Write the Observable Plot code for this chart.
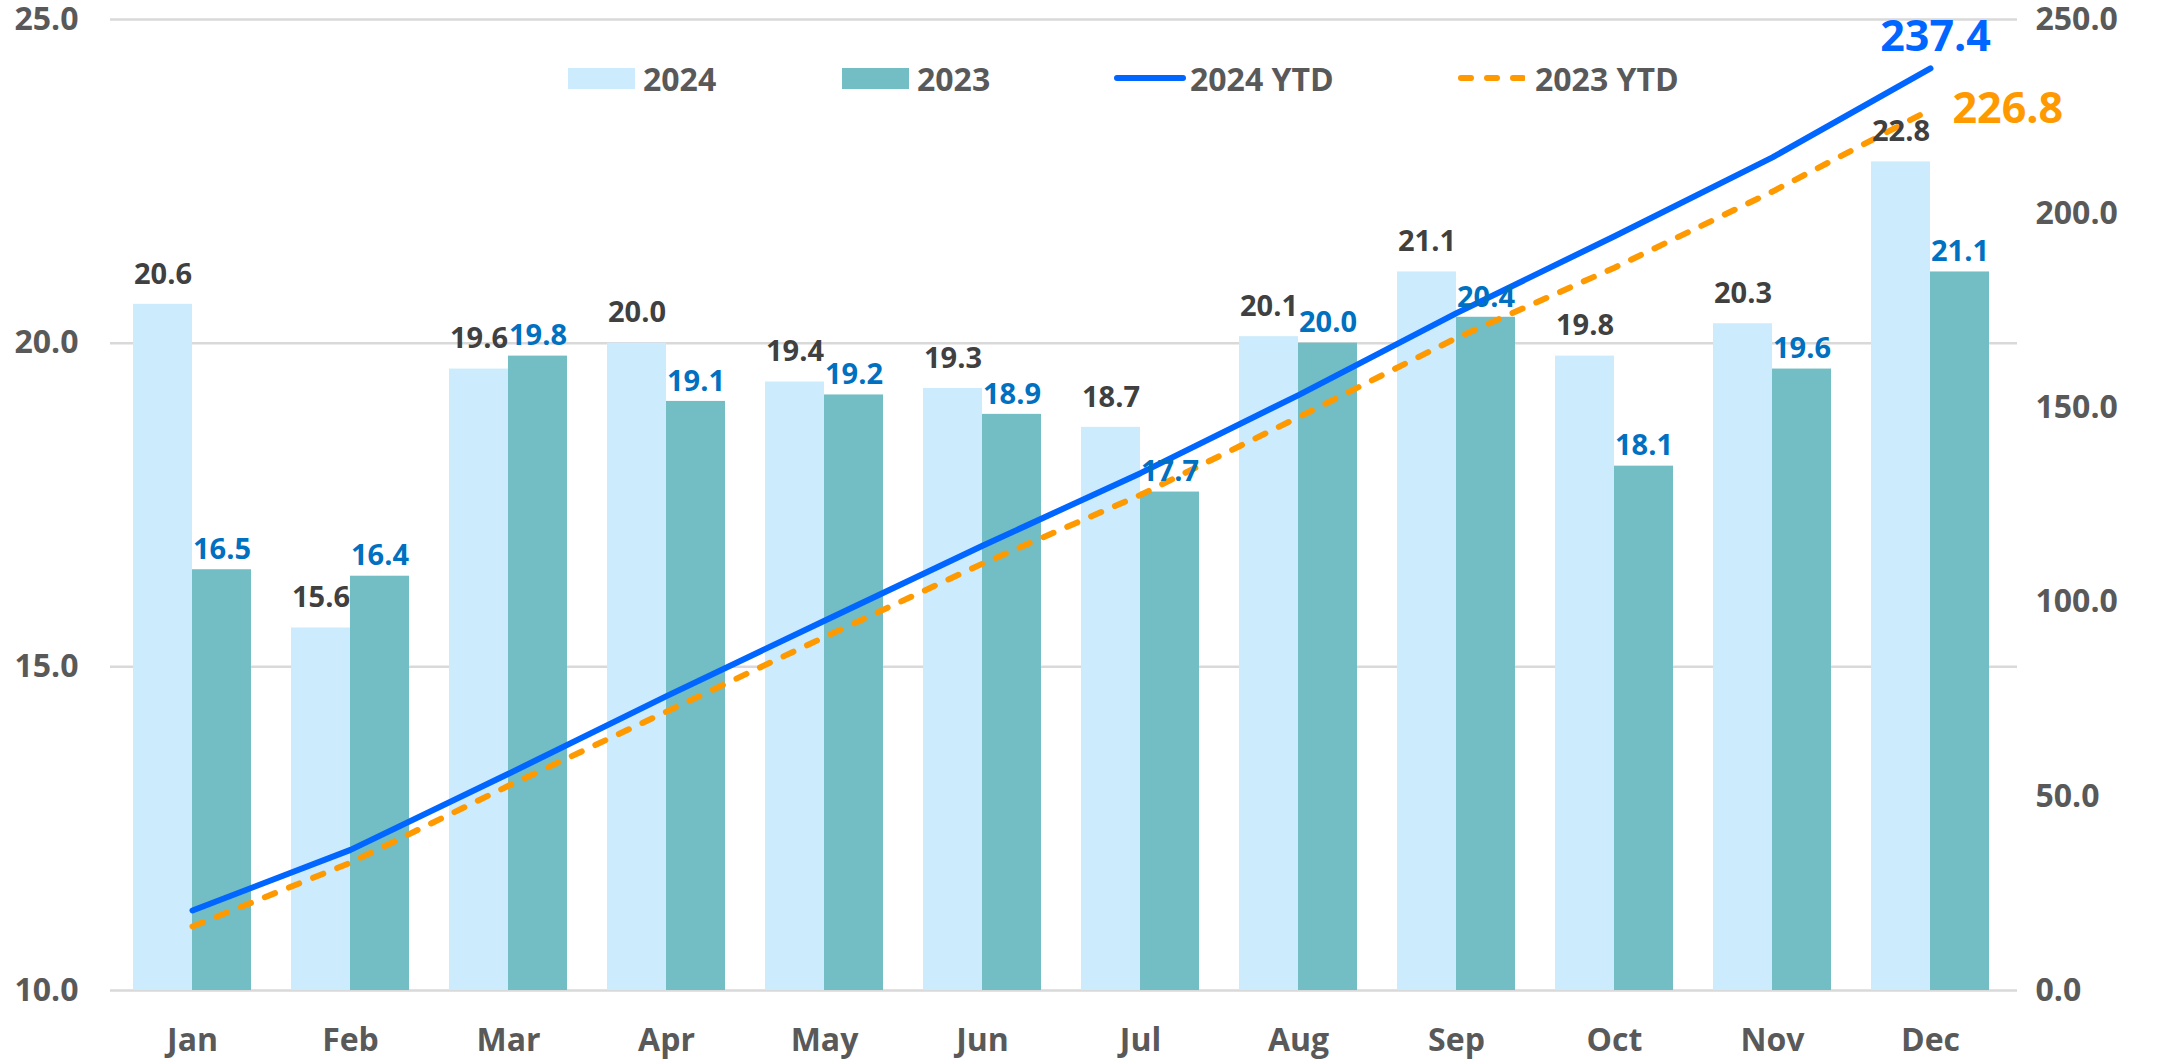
<!DOCTYPE html>
<html>
<head>
<meta charset="utf-8">
<script src="https://cdn.jsdelivr.net/npm/d3@7"></script>
<script src="https://cdn.jsdelivr.net/npm/@observablehq/plot@0.6"></script>
<style>
  html, body { margin: 0; padding: 0; background: #fff; }
  #wrap { position: relative; width: 2157px; height: 1060px; font-family: "Open Sans", sans-serif; }
  .lg { position: absolute; top: 60px; height: 36px; display: flex; align-items: center; font-weight: 700; font-size: 32px; color: #595959; }
  .sw { display: inline-block; }
</style>
</head>
<body>
<div id="wrap"></div>
<script>
const months = ["Jan","Feb","Mar","Apr","May","Jun","Jul","Aug","Sep","Oct","Nov","Dec"];
const sales2024 = [20.6, 15.6, 19.6, 20.0, 19.4, 19.3, 18.7, 20.1, 21.1, 19.8, 20.3, 22.8];
const sales2023 = [16.5, 16.4, 19.8, 19.1, 19.2, 18.9, 17.7, 20.0, 20.4, 18.1, 19.6, 21.1];
const ytd2024 = [20.6, 36.2, 55.8, 75.8, 95.2, 114.5, 133.2, 153.3, 174.4, 194.2, 214.5, 237.4];
const ytd2023 = [16.5, 32.9, 52.7, 71.8, 91.0, 109.9, 127.6, 147.6, 168.0, 186.1, 205.7, 226.8];
const leftTicks = [10, 15, 20, 25];
const rightTicks = [0, 50, 100, 150, 200, 250];
const leftDomain = [10, 25];
const rightDomain = [0, 250];

const C24 = "#CCEBFC", C23 = "#73BEC4", CL24 = "#0066FF", CL23 = "#FF9900";

const rows = months.map((m, i) => ({month: m, a: sales2024[i], b: sales2023[i], ya: ytd2024[i], yb: ytd2023[i]}));
// map right-axis (YTD) values onto the left-axis scale
const toLeft = v => leftDomain[0] + (v - rightDomain[0]) * (leftDomain[1] - leftDomain[0]) / (rightDomain[1] - rightDomain[0]);
const toRight = v => rightDomain[0] + (v - leftDomain[0]) * (rightDomain[1] - rightDomain[0]) / (leftDomain[1] - leftDomain[0]);
const last = rows[rows.length - 1];

const chart = Plot.plot({
  width: 2157,
  height: 1060,
  marginTop: 19,
  marginBottom: 70,
  marginLeft: 112,
  marginRight: 148,
  style: {fontFamily: "Open Sans, sans-serif", background: "#fff", overflow: "visible"},
  x: {domain: months, padding: 0, axis: null},
  y: {domain: leftDomain, axis: null},
  marks: [
    Plot.ruleY(leftTicks, {stroke: "#d9d9d9", strokeWidth: 2.5, insetLeft: -2, insetRight: -8}),
    Plot.barY(rows, {x: "month", y1: leftDomain[0], y2: "a", fill: C24, insetLeft: 20, insetRight: 79}),
    Plot.barY(rows, {x: "month", y1: leftDomain[0], y2: "b", fill: C23, insetLeft: 79, insetRight: 20}),
    Plot.line(rows, {x: "month", y: d => toLeft(d.yb), stroke: CL23, strokeWidth: 6, strokeDasharray: "11,15", strokeLinecap: "round"}),
    Plot.line(rows, {x: "month", y: d => toLeft(d.ya), stroke: CL24, strokeWidth: 6, strokeLinecap: "round"}),
    Plot.text(rows, {x: "month", y: "a", text: d => d.a.toFixed(1), dx: -29.5, dy: -30, fill: "#404040", fontSize: 29, fontWeight: "bold"}),
    Plot.text(rows, {x: "month", y: "b", text: d => d.b.toFixed(1), dx: 29.5, dy: -20, fill: "#0070C0", fontSize: 29, fontWeight: "bold"}),
    Plot.text([last], {x: "month", y: d => toLeft(d.ya), text: d => d.ya.toFixed(1), dx: 5, dy: -31, fill: CL24, fontSize: 43, fontWeight: "bold"}),
    Plot.text([last], {x: "month", y: d => toLeft(d.yb), text: d => d.yb.toFixed(1), dx: 22, dy: 0, textAnchor: "start", fill: CL23, fontSize: 43, fontWeight: "bold"}),
    Plot.axisY(leftTicks, {anchor: "left", tickSize: 0, tickPadding: 34, tickFormat: d => d.toFixed(1), fontSize: 32, fontWeight: "bold", fill: "#595959", label: null}),
    Plot.axisY(rightTicks.map(toLeft), {anchor: "right", tickSize: 0, tickPadding: 26, tickFormat: d => toRight(d).toFixed(1), fontSize: 32, fontWeight: "bold", fill: "#595959", label: null}),
    Plot.axisX(months, {anchor: "bottom", tickSize: 0, tickPadding: 38, fontSize: 32, fontWeight: "bold", fill: "#595959", label: null})
  ]
});

const wrap = document.getElementById("wrap");
wrap.appendChild(chart);

// legend overlay
const legendItems = [
  {label: "2024", left: 568, kind: "box", color: C24},
  {label: "2023", left: 842, kind: "box", color: C23},
  {label: "2024 YTD", left: 1114, kind: "line", color: CL24},
  {label: "2023 YTD", left: 1457, kind: "dash", color: CL23}
];
for (const it of legendItems) {
  const el = document.createElement("div");
  el.className = "lg";
  el.style.left = it.left + "px";
  let sw;
  if (it.kind === "box") {
    sw = `<span class="sw" style="width:67px;height:21px;background:${it.color};margin-right:8px"></span>`;
  } else if (it.kind === "line") {
    sw = `<svg width="72" height="12" style="margin-right:4px"><line x1="3" y1="6" x2="69" y2="6" stroke="${it.color}" stroke-width="6" stroke-linecap="round"/></svg>`;
  } else {
    sw = `<svg width="68" height="12" style="margin-right:10px"><line x1="4" y1="6" x2="66" y2="6" stroke="${it.color}" stroke-width="6" stroke-linecap="round" stroke-dasharray="10,16"/></svg>`;
  }
  el.innerHTML = sw + `<span>${it.label}</span>`;
  wrap.appendChild(el);
}
</script>
</body>
</html>
